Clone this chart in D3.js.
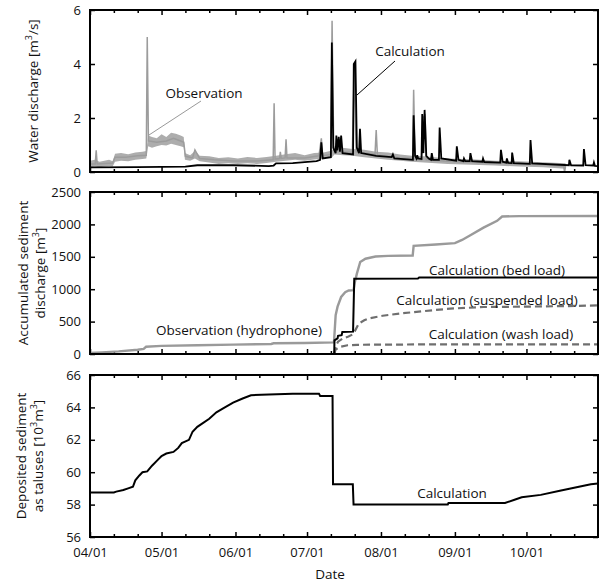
<!DOCTYPE html>
<html>
<head>
<meta charset="utf-8">
<script src="https://cdn.jsdelivr.net/npm/d3@7/dist/d3.min.js"></script>
<style>
	body { margin: 0; background: #fff; }
	text { font-family: "Open Sans", sans-serif; fill: #111; }
</style>
</head>
<body>
<svg id="chart" width="605" height="584"></svg>
<script>
// all series: [days since 04/01, value]

// water discharge, observation (centre line with spikes)
var obsQ = [
	[0, 0.3], [2.2, 0.3], [2.6, 0.8], [3, 0.3], [9.5, 0.33], [10.5, 0.55], [15, 0.55], [20, 0.6],
	[23.6, 0.62], [24, 5.0], [24.5, 1.15], [28, 1.1], [32, 1.15], [35, 1.25], [38, 1.15], [39.3, 1.1],
	[40, 0.58], [43, 0.52], [44, 0.82], [46, 0.5], [52, 0.45], [60, 0.41], [70, 0.41], [76.8, 0.45],
	[77.2, 2.55], [77.6, 0.48], [79.5, 0.5], [79.8, 0.75], [80.2, 0.5], [81.8, 0.52], [82.2, 1.21],
	[82.6, 0.52], [90, 0.52], [96, 0.6], [97, 1.25], [97.5, 0.6], [101, 0.65], [101.5, 5.6],
	[102.2, 0.8], [104, 0.75], [110, 0.72], [110.8, 3.9], [111.6, 0.75], [119.5, 0.65], [120, 1.55],
	[120.5, 0.62], [130, 0.52], [135.3, 0.5], [135.7, 3.05], [136.3, 0.48], [139, 0.45], [139.5, 2.0],
	[140.5, 2.1], [141, 0.45], [150, 0.4], [160, 0.36], [170, 0.33], [180, 0.3], [190, 0.27],
	[198.6, 0.22], [199, 0.0], [199.4, 0.22]
];

// water discharge, observation noise band [day, low, high]
var obsBand = [
	[0, 0.18, 0.42], [2, 0.2, 0.45], [4, 0.18, 0.38], [6, 0.2, 0.42], [8, 0.22, 0.45], [9.5, 0.2, 0.4],
	[10.5, 0.38, 0.68], [13, 0.42, 0.7], [16, 0.4, 0.66], [19, 0.45, 0.72], [22, 0.48, 0.75],
	[23.6, 0.5, 0.78], [24.4, 0.95, 1.35], [26, 0.9, 1.3], [28, 0.95, 1.25], [30, 1.0, 1.4],
	[32, 0.98, 1.3], [34, 1.05, 1.45], [36, 1.0, 1.42], [38, 0.95, 1.35], [39.3, 0.92, 1.3],
	[39.8, 0.45, 0.7], [42, 0.42, 0.62], [44, 0.5, 0.78], [46, 0.4, 0.6], [50, 0.35, 0.58],
	[54, 0.3, 0.52], [58, 0.32, 0.55], [62, 0.3, 0.5], [66, 0.32, 0.56], [70, 0.3, 0.52],
	[74, 0.33, 0.56], [78, 0.38, 0.6], [82, 0.42, 0.66], [86, 0.45, 0.7], [90, 0.42, 0.62],
	[94, 0.46, 0.7], [98, 0.5, 0.72], [101.5, 0.55, 0.8], [102.5, 0.65, 0.95], [106, 0.62, 0.9],
	[110, 0.6, 0.85], [115, 0.55, 0.82], [120, 0.5, 0.75], [125, 0.45, 0.72], [130, 0.42, 0.65],
	[135, 0.38, 0.6], [140, 0.35, 0.58], [150, 0.3, 0.5], [160, 0.27, 0.47], [170, 0.24, 0.42],
	[180, 0.2, 0.4], [190, 0.18, 0.36], [199.4, 0.12, 0.32]
];

// water discharge, calculation
var calcQ = [
	[0, 0.17], [20, 0.18], [40, 0.2], [45, 0.25], [60, 0.25], [75, 0.22], [77, 0.24], [78, 0.32],
	[85, 0.33], [95, 0.4], [96.5, 0.45], [97, 1.1], [97.6, 0.5], [101, 0.55], [101.4, 4.8],
	[102, 0.9], [103, 0.7], [103.3, 1.35], [103.7, 0.8], [104.3, 1.3], [104.8, 0.75], [105.3, 1.35],
	[105.9, 0.7], [110.3, 0.65], [110.6, 4.0], [111.3, 4.1], [111.9, 0.9], [112.8, 0.7], [113.2, 1.6],
	[113.7, 0.7], [120, 0.6], [126.5, 0.55], [127, 0.65], [127.6, 0.5], [135.4, 0.45], [135.7, 2.1],
	[136.3, 0.6], [136.9, 0.5], [137.2, 0.62], [137.6, 0.5], [139, 0.48], [139.3, 2.15], [139.8, 0.7],
	[140.3, 2.3], [141, 0.6], [142, 0.5], [143, 0.45], [143.3, 0.7], [143.8, 0.45], [146.3, 0.45],
	[146.6, 1.65], [147.3, 0.5], [153.5, 0.42], [153.8, 0.95], [154.5, 0.45], [156.5, 0.4],
	[156.8, 0.5], [157.3, 0.4], [159.2, 0.4], [159.5, 0.7], [160.2, 0.4], [164.5, 0.38], [164.8, 0.5],
	[165.3, 0.37], [172, 0.35], [172.3, 0.82], [173, 0.38], [174.5, 0.35], [174.8, 0.5], [175.3, 0.34],
	[176.8, 0.33], [177, 0.72], [177.7, 0.33], [184.4, 0.3], [184.7, 1.18], [185.4, 0.32],
	[200.8, 0.25], [201, 0.45], [201.7, 0.25], [206.8, 0.24], [207.1, 0.85], [207.8, 0.25],
	[211, 0.24], [211.3, 0.35], [211.7, 0.23], [213, 0.22]
];

// accumulated sediment discharge [m3]
var obsSed = [
	[0, 15], [5, 25], [12, 40], [20, 65], [22.5, 80], [23.5, 112], [30, 125], [45, 135], [60, 145],
	[76, 155], [77, 165], [90, 170], [102.3, 180], [103, 600], [103.8, 730], [105.3, 880], [107, 955],
	[108.5, 980], [110.5, 985], [111, 1100], [111.9, 1240], [113.3, 1420], [115.5, 1470],
	[119.7, 1505], [125, 1515], [135.3, 1520], [135.7, 1670], [145, 1690], [153, 1710], [156, 1760],
	[159.3, 1830], [165, 1950], [170.7, 2055], [172.8, 2122], [180, 2128], [213, 2130]
];
var bedLoad = [
	[102.4, 0], [102.5, 210], [103.8, 240], [104, 280], [105.5, 290], [105.8, 340], [110.3, 345],
	[110.8, 1160], [137.5, 1165], [138, 1180], [213, 1180]
];
var suspLoad = [
	[102.4, 0], [103, 120], [104, 190], [106, 240], [108.4, 270], [110, 300], [111, 350],
	[112.7, 470], [115, 520], [117, 550], [122.7, 590], [130, 625], [136.9, 650], [145, 680],
	[151, 700], [165, 725], [180, 730], [200, 740], [213, 750]
];
var washLoad = [
	[102.4, 0], [103, 70], [105, 110], [108, 135], [112, 142], [140, 148], [213, 150]
];

// deposited sediment as taluses [10^3 m3]
var deposit = [
	[0, 58.75], [10, 58.75], [11, 58.8], [14, 58.9], [16, 59.0], [18, 59.1], [19, 59.5], [20.7, 59.8],
	[22, 60.0], [24, 60.05], [26, 60.4], [28, 60.7], [30, 61.0], [32, 61.15], [35, 61.25], [37, 61.5],
	[38.5, 61.8], [41.5, 62.0], [43, 62.5], [45, 62.8], [47, 63.0], [50, 63.3], [53, 63.7],
	[56, 63.95], [60, 64.3], [64, 64.55], [67.5, 64.75], [75, 64.8], [85, 64.85], [96, 64.85],
	[96.5, 64.7], [101.7, 64.7], [101.9, 59.25], [110.2, 59.25], [110.5, 58.0], [150, 58.0],
	[150.3, 58.1], [174, 58.1], [178, 58.3], [181, 58.45], [189, 58.6], [197, 58.85], [205, 59.1],
	[210, 59.25], [213, 59.3]
];

var qTicks = [0, 2, 4, 6];
var sedTicks = [0, 500, 1000, 1500, 2000, 2500];
var depTicks = [56, 58, 60, 62, 64, 66];
var monthLabels = ['04/01', '05/01', '06/01', '07/01', '08/01', '09/01', '10/01'];

(function() {
	'use strict';

	var svg = d3.select('#chart');
	var parse = d3.timeParse('%Y/%m/%d');
	var start = parse('2013/04/01');
	var end = parse('2013/10/31');

	function toDate(d) {
		return new Date(start.getTime() + d * 864e5);
	}

	var x = d3.scaleTime().domain([start, end]).range([90, 598]);

	var majors = monthLabels.map(function(s) { return parse('2013/' + s); });
	var minors = [];
	d3.timeMonth.range(start, end).forEach(function(m) {
		minors.push(d3.timeDay.offset(m, 10), d3.timeDay.offset(m, 20));
	});

	function panel(id, top, bottom, domain, ticks, showDates) {
		var y = d3.scaleLinear().domain(domain).range([bottom, top]);
		var g = svg.append('g').attr('class', 'panel-' + id);

		g.append('clipPath').attr('id', 'clip-' + id)
			.append('rect').attr('x', 90).attr('y', top).attr('width', 508).attr('height', bottom - top);

		// ticks, all pointing inward
		var bot = d3.axisBottom(x).tickValues(majors).tickSize(-5).tickPadding(11)
			.tickFormat(showDates ? d3.timeFormat('%m/%d') : '');
		g.append('g').attr('transform', 'translate(0,' + bottom + ')').call(bot);
		g.append('g').attr('transform', 'translate(0,' + bottom + ')')
			.call(d3.axisBottom(x).tickValues(minors).tickSize(-3).tickFormat(''));
		g.append('g').attr('transform', 'translate(0,' + top + ')')
			.call(d3.axisTop(x).tickValues(majors).tickSize(-5).tickFormat(''));
		g.append('g').attr('transform', 'translate(0,' + top + ')')
			.call(d3.axisTop(x).tickValues(minors).tickSize(-3).tickFormat(''));
		g.append('g').attr('transform', 'translate(90,0)')
			.call(d3.axisLeft(y).tickValues(ticks).tickSize(-5).tickPadding(9).tickFormat(d3.format('d')));
		g.append('g').attr('transform', 'translate(598,0)')
			.call(d3.axisRight(y).tickValues(ticks).tickSize(-5).tickFormat(''));

		g.selectAll('.domain').remove();
		g.selectAll('.tick line').attr('stroke', '#000').attr('stroke-width', 1.5);
		g.selectAll('.tick text').attr('font-size', 13).attr('font-family', '"Open Sans", sans-serif').attr('fill', '#111');

		var plot = g.append('g').attr('clip-path', 'url(#clip-' + id + ')');

		g.append('rect')
			.attr('x', 90).attr('y', top).attr('width', 508).attr('height', bottom - top)
			.attr('fill', 'none').attr('stroke', '#000').attr('stroke-width', 2);

		return { y: y, g: g, plot: plot };
	}

	function line(y) {
		return d3.line()
			.x(function(d) { return x(toDate(d[0])); })
			.y(function(d) { return y(d[1]); });
	}

	function label(g, txt, cx, cy, anchor) {
		g.append('text').attr('x', cx).attr('y', cy)
			.attr('text-anchor', anchor || 'middle').attr('font-size', 13.5).text(txt);
	}

	function yTitle(g, lines, cx, cy) {
		// lines: list of [ [text, sup, back], ... ] parts
		var t = g.append('text').attr('transform', 'translate(' + cx + ',' + cy + ') rotate(-90)')
			.attr('text-anchor', 'middle').attr('font-size', 13.5);
		lines.forEach(function(parts, i) {
			var first = true;
			parts.forEach(function(p) {
				var ts = t.append('tspan').text(p[0]);
				if (first) {
					ts.attr('x', 0).attr('dy', i === 0 ? 0 : 17);
					first = false;
				}
				if (p[1]) ts.attr('font-size', 9).attr('dy', -6);
				else if (p[2]) ts.attr('dy', 6);
			});
		});
	}

	// ---- panel 1: water discharge
	var p1 = panel('q', 10, 172, [0, 6], qTicks, false);
	var band = d3.area()
		.x(function(d) { return x(toDate(d[0])); })
		.y0(function(d) { return p1.y(d[1]); })
		.y1(function(d) { return p1.y(d[2]); });
	p1.plot.append('path').datum(obsBand).attr('d', band).attr('fill', '#adadad');
	p1.plot.append('path').datum(obsQ).attr('d', line(p1.y))
		.attr('fill', 'none').attr('stroke', '#9c9c9c').attr('stroke-width', 1.5);
	p1.plot.append('path').datum(calcQ).attr('d', line(p1.y))
		.attr('fill', 'none').attr('stroke', '#000').attr('stroke-width', 1.8);

	label(p1.g, 'Observation', 204, 98);
	p1.g.append('line').attr('x1', 201).attr('y1', 101).attr('x2', 149).attr('y2', 135)
		.attr('stroke', '#999').attr('stroke-width', 1);
	label(p1.g, 'Calculation', 410, 56);
	p1.g.append('line').attr('x1', 395).attr('y1', 61).attr('x2', 357).attr('y2', 95)
		.attr('stroke', '#000').attr('stroke-width', 1);
	yTitle(p1.g, [[['Water discharge [m'], ['3', true], ['/s]', false, true]]], 38, 91);

	// ---- panel 2: accumulated sediment discharge
	var p2 = panel('s', 192, 354, [0, 2500], sedTicks, false);
	p2.plot.append('path').datum(obsSed).attr('d', line(p2.y))
		.attr('fill', 'none').attr('stroke', '#9a9a9a').attr('stroke-width', 2.4);
	p2.plot.append('path').datum(washLoad).attr('d', line(p2.y))
		.attr('fill', 'none').attr('stroke', '#6f6f6f').attr('stroke-width', 2.2).attr('stroke-dasharray', '7,4');
	p2.plot.append('path').datum(suspLoad).attr('d', line(p2.y))
		.attr('fill', 'none').attr('stroke', '#6f6f6f').attr('stroke-width', 2.2).attr('stroke-dasharray', '7,4');
	p2.plot.append('path').datum(bedLoad).attr('d', line(p2.y))
		.attr('fill', 'none').attr('stroke', '#000').attr('stroke-width', 2);

	label(p2.g, 'Observation (hydrophone)', 239, 335);
	label(p2.g, 'Calculation (bed load)', 497, 275);
	label(p2.g, 'Calculation (suspended load)', 487, 305);
	label(p2.g, 'Calculation (wash load)', 501, 339);
	yTitle(p2.g, [[['Accumulated sediment']], [['discharge [m'], ['3', true], [']', false, true]]], 28, 273);

	// ---- panel 3: deposited sediment
	var p3 = panel('d', 375, 537, [56, 66], depTicks, true);
	p3.plot.append('path').datum(deposit).attr('d', line(p3.y))
		.attr('fill', 'none').attr('stroke', '#000').attr('stroke-width', 2);
	label(p3.g, 'Calculation', 452, 498);
	yTitle(p3.g, [[['Deposited sediment']], [['as taluses [10'], ['3', true], ['m', false, true], ['3', true], [']', false, true]]], 26, 456);

	svg.append('text').attr('x', 330).attr('y', 579).attr('text-anchor', 'middle')
		.attr('font-size', 13.5).text('Date');
})();
</script>
</body>
</html>
